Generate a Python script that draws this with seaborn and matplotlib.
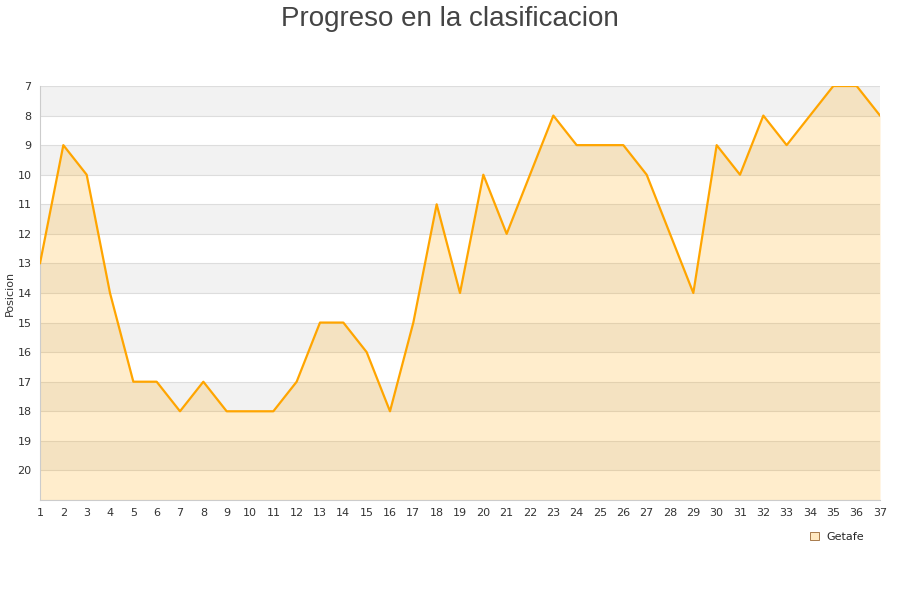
import numpy as np
import pandas as pd
import matplotlib
matplotlib.use("Agg")
import matplotlib.pyplot as plt
import seaborn as sns
from matplotlib.patches import Patch

sns.set_style("white")
plt.rcParams['font.family'] = ['DejaVu Sans']

# datos
jornadas = list(range(1, 38))
posicion = [13, 9, 10, 14, 17, 17, 18, 17, 18, 18, 18, 17, 15, 15, 16, 18, 15, 11, 14, 10,
            12, 10, 8, 9, 9, 9, 10, 12, 14, 9, 10, 8, 9, 8, 7, 7, 8]
equipo = "Getafe"

df = pd.DataFrame({"Jornada": jornadas, "Posicion": posicion})

fig = plt.figure(figsize=(9, 6), dpi=100)
ax = fig.add_axes([40 / 900, 100 / 600, 840 / 900, 414 / 600])

# bandas alternas
for y in range(7, 21, 2):
    ax.axhspan(y, y + 1, color="#f2f2f2", zorder=0, lw=0)
for y in range(7, 22):
    ax.axhline(y, color="#dddddd", lw=0.8, zorder=1)

ax.fill_between(df.Jornada, df.Posicion, 21, color="orange", alpha=0.2, lw=0, zorder=2)
sns.lineplot(data=df, x="Jornada", y="Posicion", ax=ax, color="orange", lw=1.6, zorder=3)

ax.set_xlim(1, 37)
ax.set_ylim(21, 7)
ax.set_xticks(jornadas)
ax.set_yticks(range(7, 21))
ax.tick_params(labelsize=8, colors="#333333", length=0, pad=6)
ax.set_xlabel("")
ax.set_ylabel("Posicion", fontsize=8, color="#333333", labelpad=2)
for s in ["top", "right"]:
    ax.spines[s].set_visible(False)
for s in ["left", "bottom"]:
    ax.spines[s].set_color("#cccccc")

fig.suptitle("Progreso en la clasificacion", fontsize=20, color="#444444",
             family="Liberation Sans", y=0.99)

fig.legend(handles=[Patch(facecolor="#ffe8c0", edgecolor="#996633", lw=0.6, label=equipo)],
           loc="center", bbox_to_anchor=(837 / 900, 1 - 537 / 600), frameon=False,
           fontsize=8, handlelength=0.8, handleheight=0.8, handletextpad=0.7)

fig.savefig("out.png", dpi=100)
